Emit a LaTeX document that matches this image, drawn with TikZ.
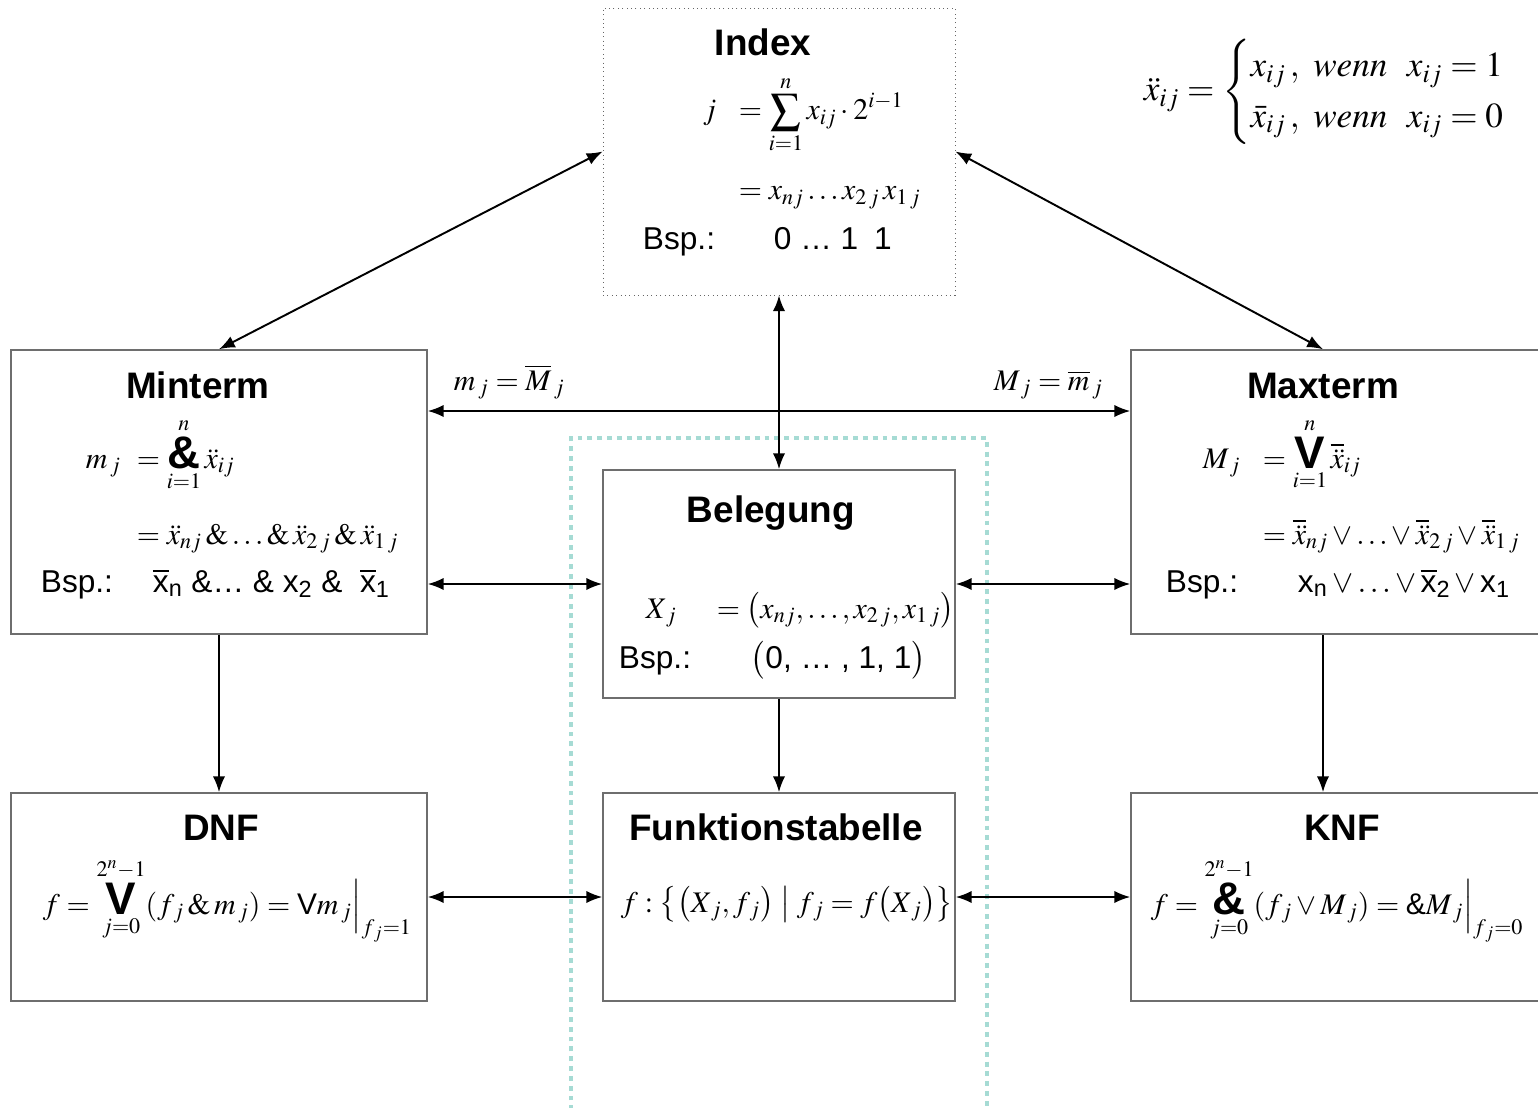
\documentclass[tikz,border=0pt]{standalone}
\usepackage{amsmath}
\usepackage{mathptmx}
\usepackage[no-math]{fontspec}
\setmainfont{Liberation Sans}
\usetikzlibrary{positioning, arrows.meta}
\definecolor{myteal}{RGB}{166, 219, 212}
\definecolor{myboxgrey}{RGB}{110, 110, 110}
\newcommand{\bigand}{\mathop{\mbox{\fontsize{26}{26}\selectfont\bfseries\&}}\limits}
\newcommand{\bigor}{\mathop{\mbox{\fontsize{26}{26}\selectfont\bfseries V}}\limits}

\begin{document}
\begin{tikzpicture}[x = 0.02cm, y = -0.02cm, > = {Latex[length = 9pt, width = 7pt]}, line width = 1.1pt,
  box/.style = {draw = myboxgrey, line width = 0.9pt, minimum width = 8.32cm, minimum height = 5.68cm, inner sep = 0pt},
  midbox/.style = {box, minimum width = 7.04cm},
  title/.style = {font = \fontsize{21}{25}\selectfont\bfseries, anchor = base, inner sep = 0pt},
  txt/.style = {font = \fontsize{18}{22}\selectfont, anchor = base west, inner sep = 0pt},
  frm/.style = {font = \fontsize{17}{20}\selectfont, anchor = base west, inner sep = 0pt}]
  \fill [white, use as bounding box] (0, 0) rectangle (1538, 1108);
  \clip (0, 0) rectangle (1538, 1108);

  % frame round belegung and table
  \draw [myteal, line width = 2.8pt, dash pattern = on 2.8pt off 2.8pt] (571, 1130) -- (571, 438) -- (987, 438) -- (987, 1130);

  % nodes
  \node [midbox, draw = black!60, line width = 0.5pt, dotted, minimum height = 5.74cm] (index) at (779, 151.5) {};
  \node [box] (minterm) at (219, 492) {};
  \node [box] (maxterm) at (1339, 492) {};
  \node [midbox, minimum height = 4.56cm] (belegung) at (779, 584) {};
  \node [box, minimum height = 4.16cm] (dnf) at (219, 897) {};
  \node [midbox, minimum height = 4.16cm] (funktion) at (779, 897) {};
  \node [box, minimum height = 4.16cm] (knf) at (1339, 897) {};

  % edges
  \draw [<->] (index.west) -- (minterm.north);
  \draw [<->] (index.east) -- ([xshift = -0.32cm] maxterm.north);
  \draw [<->] ([yshift = 1.62cm] minterm.east) -- ([yshift = 1.62cm] minterm.east -| maxterm.west);
  \draw [<->] (index.south) -- (belegung.north);
  \draw [<->] (belegung.west -| minterm.east) -- (belegung.west);
  \draw [<->] (belegung.east) -- (belegung.east -| maxterm.west);
  \draw [->] (minterm.south) -- (dnf.north);
  \draw [->] (belegung.south) -- (funktion.north);
  \draw [->] ([xshift = -0.32cm] maxterm.south) -- ([xshift = -0.32cm] knf.north);
  \draw [<->] (dnf.east) -- (funktion.west);
  \draw [<->] (funktion.east) -- (funktion.east -| knf.west);

  \node [frm] (m-label) at (453, 390) {$m_{\,j} = \overline{M}_{\,j}$};
  \node [frm] (M-label) at (993, 390) {$M_{\,j} = \overline{m}_{\,j}$};

  % index
  \node [title] (index-title) at (763, 56) {Index};
  \node [frm] (index-j) at (702, 120) {$j$};
  \node [frm] (index-sum) at (738, 120) {$\displaystyle = \sum_{i=1}^{n} x_{ij}\cdot 2^{i-1}$};
  \node [frm] (index-bits) at (738, 200) {$= x_{nj}\ldots x_{2\,j}\,x_{1\,j}$};
  \node [txt] (index-bsp) at (642, 250) {Bsp.:};
  \node [txt] (index-val) at (773, 250) {0 … 1\enspace 1};

  % minterm
  \node [title] (minterm-title) at (198, 398) {Minterm};
  \node [frm] (minterm-m) at (85, 468) {$m_{\,j}$};
  \node [frm] (minterm-and) at (136, 468) {$= \bigand_{i=1}^{n} \ddot{x}_{ij}$};
  \node [frm] (minterm-expand) at (136, 544) {$= \ddot{x}_{nj}\,\&\ldots\&\,\ddot{x}_{2\,j}\,\&\,\ddot{x}_{1\,j}$};
  \node [txt] (minterm-bsp) at (40, 592) {Bsp.:};
  \node [txt] (minterm-val) at (152, 592) {$\overline{\text{x}}_{\text{n}}$ \&… \& x$_{\text{2}}$ \&\ \ $\overline{\text{x}}_{\text{1}}$};

  % maxterm
  \node [title] (maxterm-title) at (1323, 398) {Maxterm};
  \node [frm] (maxterm-m) at (1202, 468) {$M_{\,j}$};
  \node [frm] (maxterm-or) at (1262, 468) {$= \bigor_{i=1}^{n} \overline{\ddot{x}}_{ij}$};
  \node [frm] (maxterm-expand) at (1262, 544) {$= \overline{\ddot{x}}_{nj}\vee\ldots\vee\overline{\ddot{x}}_{2\,j}\vee\overline{\ddot{x}}_{1\,j}$};
  \node [txt] (maxterm-bsp) at (1165, 592) {Bsp.:};
  \node [txt] (maxterm-val) at (1297, 592) {$\text{x}_{\text{n}}\vee\ldots\vee\overline{\text{x}}_{\text{2}}\vee\text{x}_{\text{1}}$};

  % belegung
  \node [title] (belegung-title) at (771, 522) {Belegung};
  \node [frm] (belegung-x) at (645, 618) {$X_{\,j}$};
  \node [frm] (belegung-tuple) at (716, 618) {$= \bigl(x_{nj},\ldots,x_{2\,j},x_{1\,j}\bigr)$};
  \node [txt] (belegung-bsp) at (618, 668) {Bsp.:};
  \node [txt] (belegung-val) at (750, 668) {$\bigl($0, … , 1, 1$\bigr)$};

  % funktionstabelle
  \node [title] (funktion-title) at (776, 840) {Funktionstabelle};
  \node [frm] (funktion-f) at (620, 912) {$f : \bigl\{\bigl(X_{\,j}, f_{\,j}\bigr) \bigm| f_{\,j} = f\bigl(X_{\,j}\bigr)\bigr\}$};

  % dnf and knf
  \node [title] (dnf-title) at (221, 840) {DNF};
  \node [frm] (dnf-f) at (42, 914) {$f = \bigor_{j=0}^{2^n-1}(f_{\,j}\,\&\,m_{\,j}) = \text{V}m_{\,j}\Big|_{f_{\,j}=1}$};
  \node [title] (knf-title) at (1342, 840) {KNF};
  \node [frm] (knf-f) at (1150, 914) {$f = \bigand_{j=0}^{2^n-1}(f_{\,j}\vee M_{\,j}) = \text{\&}M_{\,j}\Big|_{f_{\,j}=0}$};

  % definition
  \node [frm, font = \fontsize{20}{24}\selectfont, anchor = center] (def) at (1342, 92) {$\ddot{x}_{ij} = \begin{cases} x_{ij}\,,\ \mathit{wenn}\ \ x_{ij}=1\\ \bar{x}_{ij}\,,\ \mathit{wenn}\ \ x_{ij}=0 \end{cases}$};

\end{tikzpicture}
\end{document}
